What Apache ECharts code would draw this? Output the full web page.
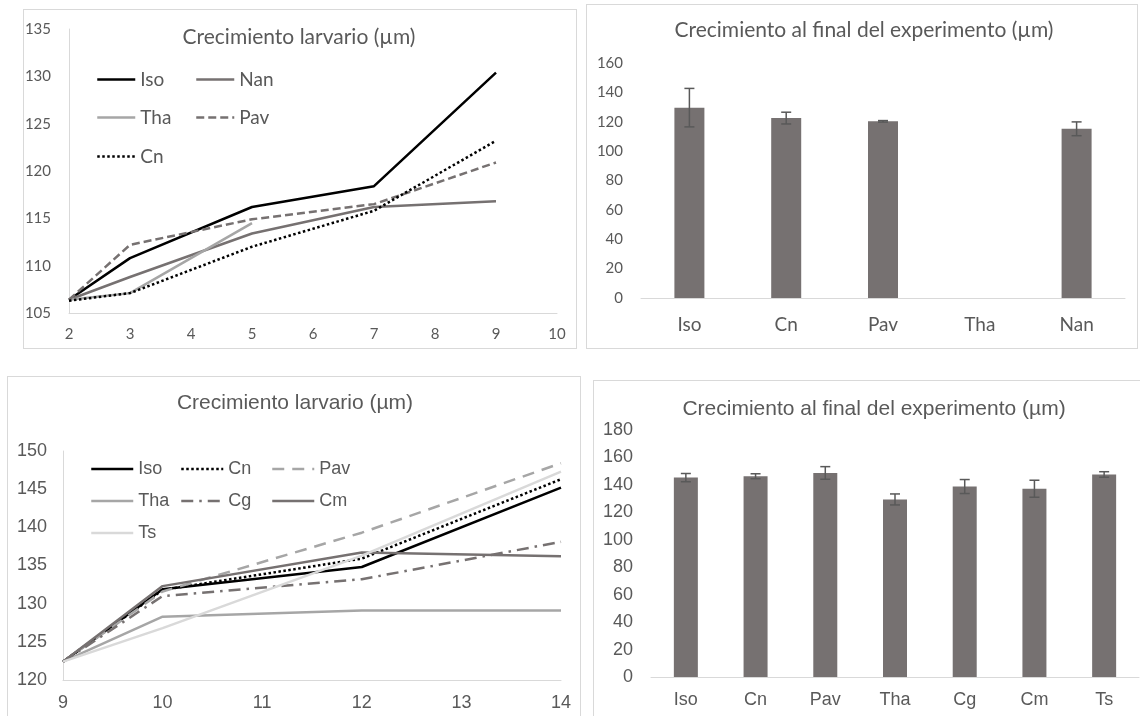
<!DOCTYPE html>
<html><head><meta charset="utf-8">
<script src="https://cdn.jsdelivr.net/npm/echarts@6/dist/echarts.min.js"></script>
<style>
html,body{margin:0;padding:0;width:1140px;height:716px;overflow:hidden;background:#fff;}
.panel{position:absolute;border:1px solid #d9d9d9;box-sizing:border-box;}
.chart{position:absolute;left:0;top:0;width:1140px;height:716px;}
</style></head><body>
<div class="panel" style="left:23px;top:9px;width:554px;height:340px"></div>
<div class="panel" style="left:586px;top:4px;width:552px;height:345px"></div>
<div class="panel" style="left:7px;top:376px;width:574px;height:360px"></div>
<div class="panel" style="left:593px;top:380px;width:560px;height:360px"></div>
<div id="c1" class="chart"></div>
<div id="c2" class="chart"></div>
<div id="c3" class="chart"></div>
<div id="c4" class="chart"></div>
<script>
// ---------- data ----------
const tlTitle = 'Crecimiento larvario (µm)';
const tlDays = [2, 3, 5, 7, 9];
const tlIso = [106.4, 110.8, 116.2, 118.4, 130.4];
const tlNan = [106.4, 108.8, 113.4, 116.2, 116.8];
const tlTha = [106.4, 107.1, 114.5, null, null];
const tlPav = [106.4, 112.2, 114.9, 116.5, 120.9];
const tlCn  = [106.3, 107.1, 112.0, 115.8, 123.2];
const tlXTicks = [2, 3, 4, 5, 6, 7, 8, 9, 10];
const tlYTicks = [105, 110, 115, 120, 125, 130, 135];

const trTitle = 'Crecimiento al final del experimento (µm)';
const trCats = ['Iso', 'Cn', 'Pav', 'Tha', 'Nan'];
const trMean = [129.6, 122.5, 120.3, null, 115.2];
const trErr  = [13.1, 4.0, 0.5, null, 4.7];
const trYTicks = [0, 20, 40, 60, 80, 100, 120, 140, 160];

const blTitle = 'Crecimiento larvario (µm)';
const blDays = [9, 10, 12, 14];
const blIso = [122.4, 131.9, 134.8, 145.2];
const blCn  = [122.4, 131.8, 135.9, 146.3];
const blPav = [122.4, 131.6, 139.3, 148.4];
const blTha = [122.4, 128.3, 129.1, 129.1];
const blCg  = [122.4, 131.0, 133.2, 138.1];
const blCm  = [122.4, 132.3, 136.7, 136.2];
const blTs  = [122.4, 126.8, 136.3, 147.3];
const blXTicks = [9, 10, 11, 12, 13, 14];
const blYTicks = [120, 125, 130, 135, 140, 145, 150];

const brTitle = 'Crecimiento al final del experimento (µm)';
const brCats = ['Iso', 'Cn', 'Pav', 'Tha', 'Cg', 'Cm', 'Ts'];
const brMean = [145.3, 146.3, 148.7, 129.4, 138.8, 137.2, 147.6];
const brErr  = [3.0, 1.8, 4.6, 4.0, 5.1, 6.2, 2.0];
const brYTicks = [0, 20, 40, 60, 80, 100, 120, 140, 160, 180];

// ---------- helpers ----------
const TXT = '#595959';
const AX = '#d9d9d9';
const CAL = 'Lato, "Open Sans", sans-serif';
const ARI = '"Liberation Sans", Arial, sans-serif';

function pairs(xs, ys) { return xs.map((x, i) => [x, ys[i]]); }
function range(t) { return {min: t[0], max: t[t.length - 1], interval: t[1] - t[0]}; }
function legendAt(name, x, y, w, size, fam) {
  return {data: [name], left: x, top: y - 7, itemWidth: w, itemHeight: 14, padding: 0,
    selectedMode: false, itemStyle: {opacity: 0}, lineStyle: {width: 'inherit'},
    textStyle: {color: TXT, fontSize: size, fontFamily: fam}};
}
function lineSeries(name, data, color, width, type) {
  return {name, type: 'line', data, symbol: 'none', showSymbol: false, smooth: false,
    connectNulls: false, z: 2,
    lineStyle: {color, width, type: type || 'solid', cap: 'butt', join: 'round'},
    itemStyle: {color}};
}
function errSeries(mean, err) {
  const data = [];
  mean.forEach((m, i) => { if (m != null) data.push([i, m - err[i], m + err[i]]); });
  return {type: 'custom', z: 5, data, encode: {x: 0, y: [1, 2]},
    renderItem(params, api) {
      const i = api.value(0);
      const a = api.coord([i, api.value(2)]);
      const b = api.coord([i, api.value(1)]);
      const hw = 5, st = {stroke: '#595959', lineWidth: 1.5};
      return {type: 'group', children: [
        {type: 'line', shape: {x1: a[0], y1: a[1], x2: b[0], y2: b[1]}, style: st},
        {type: 'line', shape: {x1: a[0] - hw, y1: a[1], x2: a[0] + hw, y2: a[1]}, style: st},
        {type: 'line', shape: {x1: b[0] - hw, y1: b[1], x2: b[0] + hw, y2: b[1]}, style: st}
      ]};
    }};
}
function title(text, x, y, size, fam) {
  return {text, left: x, top: y, padding: 0, textAlign: 'center', textVerticalAlign: 'middle',
    textStyle: {color: TXT, fontSize: size, fontWeight: 'normal', fontFamily: fam}};
}

// ---------- top-left ----------
const c1 = echarts.init(document.getElementById('c1'));
c1.setOption({
  animation: false,
  title: title(tlTitle, 299, 37, 21, CAL),
  legend: [
    legendAt('Iso', 96, 77, 38, 19, CAL), legendAt('Nan', 195, 77, 38, 19, CAL),
    legendAt('Tha', 96, 115, 38, 19, CAL), legendAt('Pav', 195, 115, 38, 19, CAL),
    legendAt('Cn', 96, 154, 38, 19, CAL)
  ],
  grid: {left: 69, top: 29, width: 488, height: 284},
  xAxis: Object.assign({type: 'value', axisLine: {show: true, lineStyle: {color: AX}},
    axisTick: {show: false}, splitLine: {show: false},
    axisLabel: {color: TXT, fontSize: 15, fontFamily: CAL, margin: 14}}, range(tlXTicks)),
  yAxis: Object.assign({type: 'value', axisLine: {show: true, lineStyle: {color: AX}},
    axisTick: {show: false}, splitLine: {show: false},
    axisLabel: {color: TXT, fontSize: 15, fontFamily: CAL, margin: 18}}, range(tlYTicks)),
  series: [
    lineSeries('Iso', pairs(tlDays, tlIso), '#000000', 2.5),
    lineSeries('Nan', pairs(tlDays, tlNan), '#767171', 2.5),
    lineSeries('Tha', pairs(tlDays, tlTha), '#a6a6a6', 2.5),
    lineSeries('Pav', pairs(tlDays, tlPav), '#767171', 2.5, [8, 4]),
    lineSeries('Cn', pairs(tlDays, tlCn), '#000000', 2.5, [2.5, 2.5])
  ]
});

// ---------- top-right ----------
const c2 = echarts.init(document.getElementById('c2'));
c2.setOption({
  animation: false,
  title: title(trTitle, 864, 30, 21, CAL),
  grid: {left: 641, top: 63, width: 484, height: 235},
  xAxis: {type: 'category', data: trCats, axisLine: {show: true, lineStyle: {color: AX}},
    axisTick: {show: false}, axisLabel: {color: TXT, fontSize: 19, fontFamily: CAL, margin: 17}},
  yAxis: Object.assign({type: 'value', axisLine: {show: false}, axisTick: {show: false},
    splitLine: {show: false}, axisLabel: {color: TXT, fontSize: 15, fontFamily: CAL, margin: 18}},
    range(trYTicks)),
  series: [
    {type: 'bar', data: trMean, barWidth: 30, itemStyle: {color: '#767171'}, z: 2},
    errSeries(trMean, trErr)
  ]
});

// ---------- bottom-left ----------
const c3 = echarts.init(document.getElementById('c3'));
c3.setOption({
  animation: false,
  title: title(blTitle, 295, 403, 21, ARI),
  legend: [
    legendAt('Iso', 90, 467, 42, 18, ARI), legendAt('Cn', 180, 467, 42, 18, ARI),
    legendAt('Pav', 271, 467, 42, 18, ARI),
    legendAt('Tha', 90, 499, 42, 18, ARI), legendAt('Cg', 180, 499, 42, 18, ARI),
    legendAt('Cm', 271, 499, 42, 18, ARI),
    legendAt('Ts', 90, 531, 42, 18, ARI)
  ],
  grid: {left: 63, top: 451, width: 498, height: 229},
  xAxis: Object.assign({type: 'value', axisLine: {show: true, lineStyle: {color: AX}},
    axisTick: {show: false}, splitLine: {show: false},
    axisLabel: {color: TXT, fontSize: 18, fontFamily: ARI, margin: 14}}, range(blXTicks)),
  yAxis: Object.assign({type: 'value', axisLine: {show: true, lineStyle: {color: AX}},
    axisTick: {show: false}, splitLine: {show: false},
    axisLabel: {color: TXT, fontSize: 18, fontFamily: ARI, margin: 16}}, range(blYTicks)),
  series: [
    lineSeries('Iso', pairs(blDays, blIso), '#000000', 2.5),
    lineSeries('Cn', pairs(blDays, blCn), '#000000', 2.5, [2.5, 2.5]),
    lineSeries('Pav', pairs(blDays, blPav), '#a6a6a6', 2.5, [12, 8]),
    lineSeries('Tha', pairs(blDays, blTha), '#a6a6a6', 2.5),
    lineSeries('Cg', pairs(blDays, blCg), '#767171', 2.5, [12, 6, 2.5, 6]),
    lineSeries('Cm', pairs(blDays, blCm), '#767171', 2.5),
    lineSeries('Ts', pairs(blDays, blTs), '#d9d9d9', 2.5)
  ]
});

// ---------- bottom-right ----------
const c4 = echarts.init(document.getElementById('c4'));
c4.setOption({
  animation: false,
  title: title(brTitle, 874, 409, 21, ARI),
  grid: {left: 651, top: 430, width: 488, height: 247},
  xAxis: {type: 'category', data: brCats, axisLine: {show: true, lineStyle: {color: AX}},
    axisTick: {show: false}, axisLabel: {color: TXT, fontSize: 18, fontFamily: ARI, margin: 14}},
  yAxis: Object.assign({type: 'value', axisLine: {show: false}, axisTick: {show: false},
    splitLine: {show: false}, axisLabel: {color: TXT, fontSize: 18, fontFamily: ARI, margin: 18}},
    range(brYTicks)),
  series: [
    {type: 'bar', data: brMean, barWidth: 24, itemStyle: {color: '#767171'}, z: 2},
    errSeries(brMean, brErr)
  ]
});
</script>
</body></html>
